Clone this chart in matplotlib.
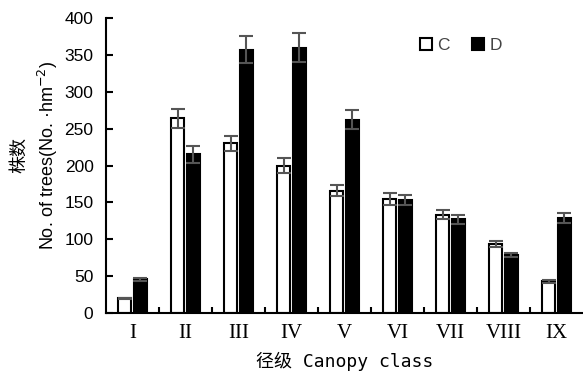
"""径级別 株数の棒グラフ（C / D 比較）。"""
import matplotlib.pyplot as plt
import numpy as np

# data
classes = ["I", "II", "III", "IV", "V", "VI", "VII", "VIII", "IX"]
c_vals = [20, 264, 230, 200, 166, 155, 133, 93, 43]
c_err = [1, 13, 10, 10, 8, 8, 6, 4, 2]
d_vals = [46, 215, 357, 360, 262, 153, 127, 79, 129]
d_err = [2, 11, 18, 19, 13, 7, 6, 3, 7]

plt.rcParams["font.family"] = ["Liberation Sans", "Noto Sans CJK SC"]

fig = plt.figure(figsize=(5.83, 3.74), dpi=100)
ax = fig.add_axes([106 / 583, 61 / 374, 477 / 583, 295 / 374])

x = np.arange(len(classes))
w = 0.25
off = 0.145
ekw = dict(ecolor="#555555", elinewidth=1.5, capsize=4.8, capthick=1.5)
ax.bar(x - off, c_vals, w, yerr=c_err, color="white", edgecolor="black",
       linewidth=1.5, error_kw=ekw, label="C")
ax.bar(x + off, d_vals, w, yerr=d_err, color="black", edgecolor="black",
       linewidth=1.5, error_kw=ekw, label="D")

ax.set_xlim(-0.5, len(classes) - 0.5)
ax.set_ylim(0, 400)
ax.set_yticks(np.arange(0, 401, 50))
ax.set_xticks(x)
ax.set_xticklabels(classes, family="Liberation Serif", fontsize=15)
ax.set_xticks(np.arange(0.5, len(classes) - 0.5, 1), minor=True)
ax.tick_params(axis="x", which="major", length=0, pad=8)
ax.tick_params(axis="x", which="minor", direction="in", length=4, width=1.5)
ax.tick_params(axis="y", direction="in", length=5, width=1.5, labelsize=12.5, pad=9)

for s in ("top", "right"):
    ax.spines[s].set_visible(False)
for s in ("left", "bottom"):
    ax.spines[s].set_linewidth(1.5)

mono = ["DejaVu Sans Mono", "Noto Sans CJK SC"]
ax.set_xlabel("径级 Canopy class", family=mono, fontsize=13, labelpad=6)
fig.text(0.032, 0.585, "株数", rotation=90, ha="center", va="center",
         family=["Noto Sans CJK SC"], fontsize=13)
fig.text(0.082, 0.585, "No. of trees(No. ·hm$^{-2}$)", rotation=90,
         ha="center", va="center", fontsize=13)

leg = ax.legend(loc="upper left", bbox_to_anchor=(0.625, 0.985), ncol=2,
                frameon=False, fontsize=12.5, handlelength=0.7,
                handleheight=0.7, handletextpad=0.3, columnspacing=1.3)
for t in leg.get_texts():
    t.set_color("#444444")

fig.savefig("out.png", dpi=100)
